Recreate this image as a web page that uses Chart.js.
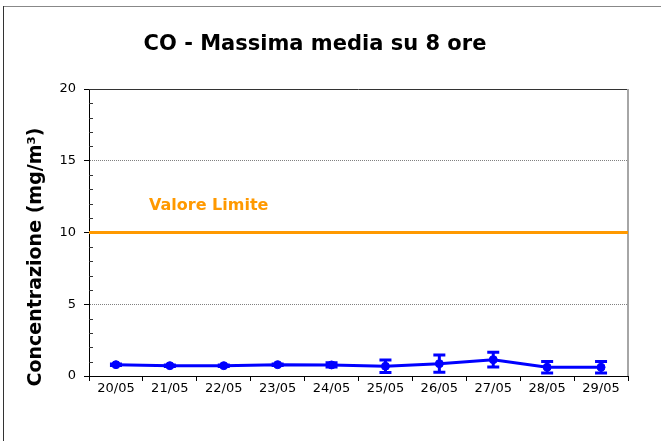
<!DOCTYPE html>
<html>
<head>
<meta charset="utf-8">
<script src="https://cdn.jsdelivr.net/npm/chart.js@4"></script>
<style>
  html, body { margin: 0; padding: 0; background: #fff; }
  #wrap { width: 661px; height: 441px; }
</style>
</head>
<body>
<div id="wrap"><canvas id="coChart" width="661" height="441"></canvas></div>
<script>
var labels = ['20/05', '21/05', '22/05', '23/05', '24/05', '25/05', '26/05', '27/05', '28/05', '29/05'];
var values = [0.79, 0.72, 0.72, 0.79, 0.77, 0.68, 0.86, 1.14, 0.61, 0.61];
var errors = [0.05, 0.05, 0.05, 0.05, 0.15, 0.44, 0.6, 0.52, 0.4, 0.4];
var limitValue = 10;
var limitLabel = 'Valore Limite';
var titleText = 'CO - Massima media su 8 ore';
var yTitle = 'Concentrazione (mg/m\u00B3)';
var yMin = 0, yMax = 20, yMajor = 5;

var FONT = "'DejaVu Sans', Verdana, sans-serif";

// frame, limit line, error bars, minor ticks and texts
var extras = {
    id: 'extras',
    beforeDraw: function(chart){
        var ctx = chart.ctx;
        ctx.save();
        ctx.lineWidth = 1;
        ctx.strokeStyle = '#888';
        ctx.beginPath();
        ctx.moveTo(3, 6.5);
        ctx.lineTo(chart.width, 6.5);
        ctx.stroke();
        ctx.strokeStyle = '#333';
        ctx.beginPath();
        ctx.moveTo(3.5, 6);
        ctx.lineTo(3.5, chart.height);
        ctx.stroke();
        ctx.restore();
    },
    beforeDatasetsDraw: function(chart){
        var ctx = chart.ctx, area = chart.chartArea, y = chart.scales.y;
        ctx.save();
        // plot frame top + right
        ctx.strokeStyle = '#333';
        ctx.lineWidth = 1;
        ctx.beginPath();
        ctx.moveTo(area.left, area.top + 0.5);
        ctx.lineTo(area.right, area.top + 0.5);
        ctx.stroke();
        ctx.strokeStyle = '#a6a6a6';
        ctx.lineWidth = 2;
        ctx.beginPath();
        ctx.moveTo(area.right, area.top);
        ctx.lineTo(area.right, area.bottom);
        ctx.stroke();
        // minor ticks inside the plot
        ctx.strokeStyle = '#333';
        ctx.lineWidth = 1;
        for (var v = yMin; v <= yMax; v++) {
            if (v % yMajor === 0) continue;
            var py = Math.round(y.getPixelForValue(v)) + 0.5;
            ctx.beginPath();
            ctx.moveTo(area.left, py);
            ctx.lineTo(area.left + 4, py);
            ctx.stroke();
        }
        // limit line
        var ly = y.getPixelForValue(limitValue);
        ctx.strokeStyle = '#ff9900';
        ctx.lineWidth = 3;
        ctx.beginPath();
        ctx.moveTo(area.left, ly);
        ctx.lineTo(area.right, ly);
        ctx.stroke();
        ctx.fillStyle = '#ff9900';
        ctx.font = 'bold 16px ' + FONT;
        ctx.textAlign = 'left';
        ctx.textBaseline = 'alphabetic';
        ctx.fillText(limitLabel, 149, 210);
        ctx.restore();
    },
    afterDatasetsDraw: function(chart){
        var ctx = chart.ctx, y = chart.scales.y;
        var meta = chart.getDatasetMeta(0);
        ctx.save();
        ctx.strokeStyle = '#0000ff';
        ctx.lineWidth = 3;
        meta.data.forEach(function(pt, i){
            var top = y.getPixelForValue(values[i] + errors[i]);
            var bot = y.getPixelForValue(values[i] - errors[i]);
            ctx.beginPath();
            ctx.moveTo(pt.x, top);
            ctx.lineTo(pt.x, bot);
            ctx.moveTo(pt.x - 6, top);
            ctx.lineTo(pt.x + 6, top);
            ctx.moveTo(pt.x - 6, bot);
            ctx.lineTo(pt.x + 6, bot);
            ctx.stroke();
        });
        ctx.restore();
    },
    afterDraw: function(chart){
        var ctx = chart.ctx;
        ctx.save();
        ctx.fillStyle = '#000';
        ctx.font = 'bold 21px ' + FONT;
        ctx.textAlign = 'center';
        ctx.textBaseline = 'alphabetic';
        ctx.fillText(titleText, 315, 50);
        ctx.translate(36, 257);
        ctx.rotate(-Math.PI / 2);
        ctx.font = 'bold 19px ' + FONT;
        ctx.textBaseline = 'middle';
        ctx.fillText(yTitle, 0, 0);
        ctx.restore();
    }
};

var canvas = document.getElementById('coChart').getContext('2d');
var chart = new Chart(canvas, {
    type: 'line',
    data: {
        labels: labels,
        datasets: [{
            data: values,
            borderColor: '#0000ff',
            backgroundColor: '#0000ff',
            borderWidth: 3,
            pointRadius: 4,
            pointBorderWidth: 1,
            pointHoverRadius: 4,
            tension: 0
        }]
    },
    plugins: [extras],
    options: {
        responsive: false,
        animation: false,
        layout: { padding: { left: 0, top: 89, right: 33, bottom: 0 } },
        plugins: {
            legend: { display: false },
            title: { display: false },
            tooltip: { enabled: false }
        },
        scales: {
            x: {
                type: 'category',
                offset: true,
                afterFit: function(scale){ scale.height = 65; },
                grid: {
                    offset: true,
                    drawOnChartArea: false,
                    tickLength: 5,
                    tickColor: '#000'
                },
                border: { color: '#000', width: 1 },
                ticks: {
                    color: '#000',
                    font: { family: FONT, size: 13 },
                    padding: 0,
                    maxRotation: 0,
                    autoSkip: false
                }
            },
            y: {
                min: yMin,
                max: yMax,
                afterFit: function(scale){ scale.width = 89; },
                grid: {
                    color: function(c){
                        var v = c.tick ? c.tick.value : 0;
                        return (v % yMajor === 0 && v !== yMin && v !== yMax && v !== limitValue) ? '#808080' : 'rgba(0,0,0,0)';
                    },
                    tickColor: function(c){
                        var v = c.tick ? c.tick.value : 0;
                        return v % yMajor === 0 ? '#000' : 'rgba(0,0,0,0)';
                    },
                    tickLength: 5,
                    lineWidth: 1
                },
                border: { color: '#000', width: 1, dash: [1, 1] },
                ticks: {
                    stepSize: 1,
                    autoSkip: false,
                    color: '#000',
                    padding: 8,
                    font: { family: FONT, size: 13 },
                    callback: function(v){ return v % yMajor === 0 ? v : ''; }
                }
            }
        }
    }
});
</script>
</body>
</html>
